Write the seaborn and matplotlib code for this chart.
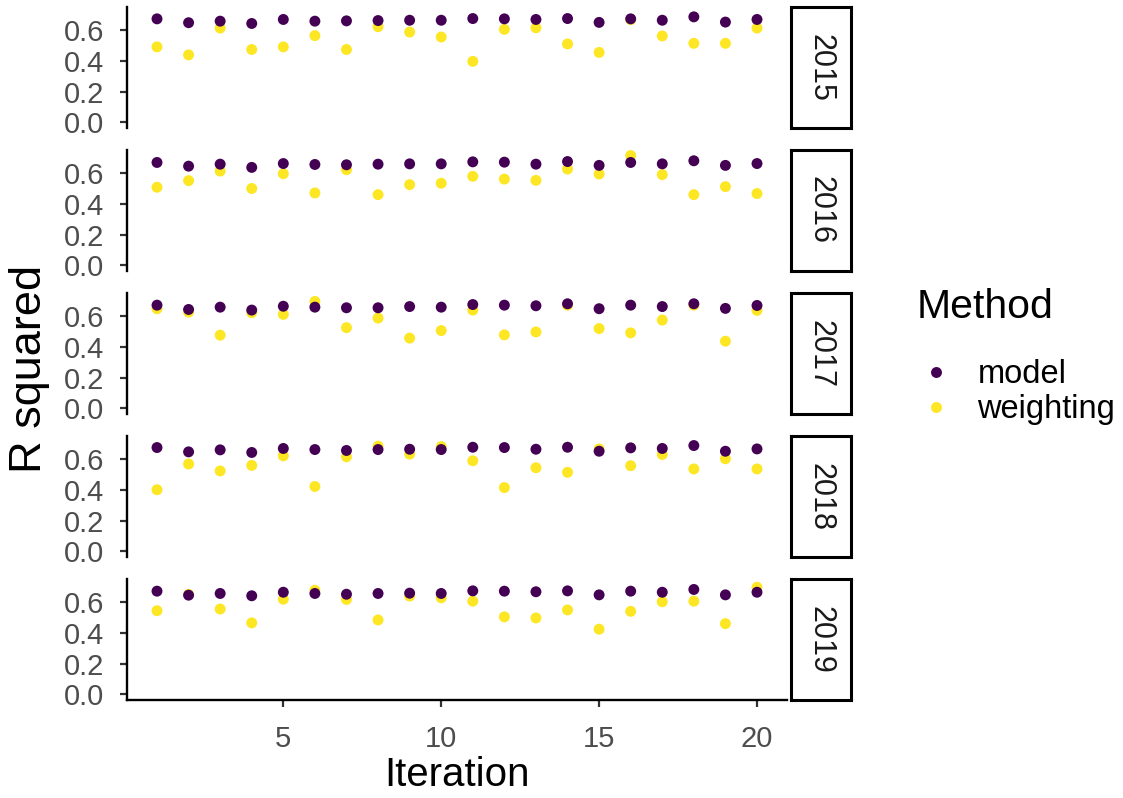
import numpy as np
import pandas as pd
import matplotlib
matplotlib.use("Agg")
import matplotlib.pyplot as plt
import seaborn as sns

iterations = list(range(1, 21))
years = ["2015", "2016", "2017", "2018", "2019"]
methods = ["model", "weighting"]
colors = {"model": "#440154", "weighting": "#FDE725"}

model_2015 = [0.673, 0.648, 0.658, 0.643, 0.669, 0.658, 0.660, 0.662, 0.664, 0.664,
              0.675, 0.673, 0.669, 0.675, 0.650, 0.673, 0.664, 0.686, 0.652, 0.669]
weight_2015 = [0.491, 0.439, 0.613, 0.474, 0.491, 0.564, 0.474, 0.622, 0.587, 0.555,
               0.397, 0.605, 0.615, 0.510, 0.455, 0.668, 0.562, 0.514, 0.514, 0.613]
model_2016 = [0.669, 0.645, 0.658, 0.637, 0.662, 0.656, 0.654, 0.658, 0.660, 0.660,
              0.673, 0.671, 0.658, 0.675, 0.650, 0.669, 0.660, 0.680, 0.650, 0.662]
weight_2016 = [0.508, 0.551, 0.613, 0.500, 0.596, 0.471, 0.622, 0.460, 0.525, 0.534,
               0.579, 0.561, 0.553, 0.626, 0.594, 0.714, 0.590, 0.460, 0.512, 0.467]
model_2017 = [0.671, 0.643, 0.658, 0.639, 0.664, 0.658, 0.654, 0.654, 0.662, 0.658,
              0.675, 0.671, 0.667, 0.680, 0.648, 0.671, 0.662, 0.680, 0.650, 0.669]
weight_2017 = [0.648, 0.626, 0.476, 0.622, 0.611, 0.695, 0.525, 0.587, 0.457, 0.506,
               0.639, 0.478, 0.497, 0.671, 0.519, 0.491, 0.574, 0.671, 0.437, 0.637]
model_2018 = [0.675, 0.647, 0.660, 0.643, 0.669, 0.662, 0.656, 0.662, 0.664, 0.662,
              0.677, 0.675, 0.664, 0.677, 0.651, 0.673, 0.669, 0.688, 0.651, 0.666]
weight_2018 = [0.401, 0.568, 0.523, 0.559, 0.621, 0.422, 0.615, 0.684, 0.632, 0.681,
               0.589, 0.415, 0.544, 0.514, 0.666, 0.557, 0.630, 0.536, 0.602, 0.536]
model_2019 = [0.671, 0.645, 0.656, 0.641, 0.664, 0.656, 0.651, 0.656, 0.658, 0.656,
              0.673, 0.671, 0.667, 0.673, 0.647, 0.671, 0.664, 0.682, 0.647, 0.664]
weight_2019 = [0.544, 0.650, 0.555, 0.465, 0.619, 0.677, 0.617, 0.484, 0.639, 0.628,
               0.606, 0.504, 0.497, 0.549, 0.424, 0.540, 0.602, 0.606, 0.460, 0.696]

model_vals = {"2015": model_2015, "2016": model_2016, "2017": model_2017,
              "2018": model_2018, "2019": model_2019}
weight_vals = {"2015": weight_2015, "2016": weight_2016, "2017": weight_2017,
               "2018": weight_2018, "2019": weight_2019}

x_ticks = [5, 10, 15, 20]
y_ticks = [0.0, 0.2, 0.4, 0.6]

sns.set_theme(style="white")
plt.rcParams["font.family"] = ["Liberation Sans", "DejaVu Sans"]

W, H = 1123, 798
fig = plt.figure(figsize=(W / 100, H / 100), dpi=100)

tops = [7, 150, 293, 436, 579]
panel_h = 121
left_px, right_px = 127, 787
strip_l, strip_r = 791, 851

tick_color = "#4D4D4D"
handles, labels = None, None

for i, yr in enumerate(years):
    t = tops[i]
    b = t + panel_h
    ax = fig.add_axes([left_px / W, 1 - b / H, (right_px - left_px) / W, panel_h / H])
    df = pd.concat([
        pd.DataFrame({"Iteration": iterations, "R squared": weight_vals[yr], "Method": "weighting"}),
        pd.DataFrame({"Iteration": iterations, "R squared": model_vals[yr], "Method": "model"}),
    ], ignore_index=True)
    sns.scatterplot(data=df, x="Iteration", y="R squared", hue="Method",
                    hue_order=methods, palette=colors, s=62, linewidth=0,
                    ax=ax, legend=(i == 0))
    if i == 0:
        handles, labels = ax.get_legend_handles_labels()
        ax.get_legend().remove()
    ax.set_xlim(0.05, 20.95)
    ax.set_ylim(-0.036, 0.75)
    ax.set_yticks(y_ticks)
    ax.set_yticklabels([f"{v:.1f}" for v in y_ticks])
    ax.set_xlabel("")
    ax.set_ylabel("")
    for s in ["top", "right"]:
        ax.spines[s].set_visible(False)
    ax.spines["left"].set_color("black")
    ax.spines["left"].set_linewidth(1.7)
    ax.tick_params(axis="y", length=5, width=1.6, color="#333333",
                   labelsize=21, labelcolor=tick_color, pad=11.5, left=True)
    if i < len(years) - 1:
        ax.spines["bottom"].set_visible(False)
        ax.set_xticks([])
    else:
        ax.spines["bottom"].set_color("black")
        ax.spines["bottom"].set_linewidth(1.7)
        ax.set_xticks(x_ticks)
        ax.tick_params(axis="x", length=5, width=1.6, color="#333333",
                       labelsize=21, labelcolor=tick_color, pad=13, bottom=True)
    ax.grid(False)

    sax = fig.add_axes([strip_l / W, 1 - b / H, (strip_r - strip_l) / W, panel_h / H])
    sax.set_xticks([])
    sax.set_yticks([])
    sax.set_facecolor("white")
    for s in sax.spines.values():
        s.set_visible(True)
        s.set_color("black")
        s.set_linewidth(2.2)
    sax.text(0.5, 0.5, yr, rotation=270, ha="center", va="center",
             fontsize=22, color="#1A1A1A", transform=sax.transAxes)

fig.text(30 / W, 1 - 369 / H, "R squared", rotation=90, ha="center", va="center",
         fontsize=32.5, color="black")
fig.text(457 / W, 1 - 775 / H, "Iteration", ha="center", va="center",
         fontsize=29, color="black")

leg = fig.legend(handles, labels, title="Method", loc="upper left",
                 bbox_to_anchor=(917 / W, 1 - 288 / H), frameon=False,
                 fontsize=23.5, title_fontsize=29.5, markerscale=1.0,
                 handlelength=1.15, handletextpad=0.7, labelspacing=0.12,
                 borderpad=0.0, borderaxespad=0.0)
leg._legend_box.align = "left"
leg._legend_box.sep = 24
leg.get_title().set_color("black")
for txt in leg.get_texts():
    txt.set_color("black")

fig.savefig("out.png", dpi=100, facecolor="white")
